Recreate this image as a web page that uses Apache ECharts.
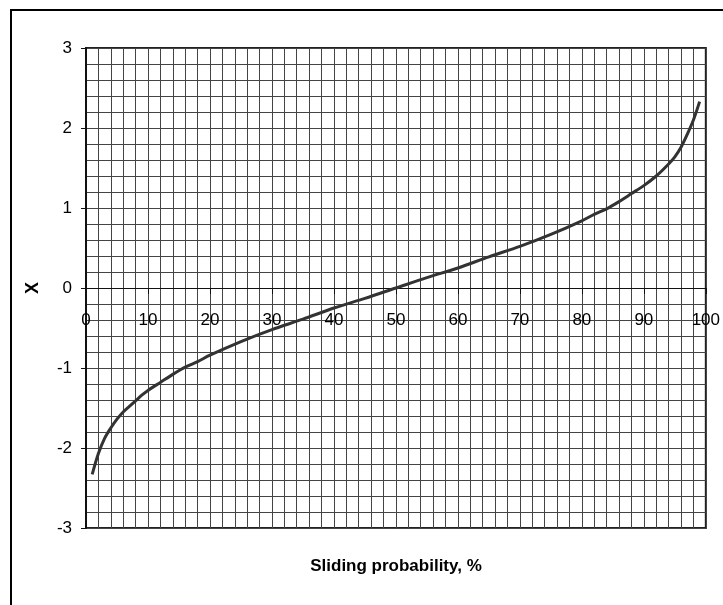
<!DOCTYPE html>
<html>
<head>
<meta charset="utf-8">
<script src="https://cdn.jsdelivr.net/npm/echarts@6/dist/echarts.min.js"></script>
<style>
  html, body { margin: 0; padding: 0; background: #fff; }
  #chart { width: 723px; height: 605px; }
</style>
</head>
<body>
<div id="chart"></div>
<script>
// Sliding probability (%) against the standardised variable X
const probability = [1, 2, 3, 4, 5, 6, 7, 8, 9, 10, 12, 14, 16, 18, 20, 25, 30, 35, 40, 45,
  50, 55, 60, 65, 70, 75, 80, 82, 84, 86, 88, 90, 92, 94, 95, 96, 97, 98, 99];
const xValue = [-2.33, -2.07, -1.88, -1.75, -1.64, -1.55, -1.48, -1.41, -1.34, -1.28, -1.18,
  -1.08, -0.99, -0.92, -0.84, -0.67, -0.52, -0.39, -0.25, -0.13,
  0.00, 0.13, 0.25, 0.39, 0.52, 0.67, 0.84, 0.92, 0.99, 1.08, 1.18, 1.28, 1.40, 1.55, 1.64,
  1.76, 1.92, 2.10, 2.33];

const xTicks = [0, 10, 20, 30, 40, 50, 60, 70, 80, 90, 100];
const yTicks = [-3, -2, -1, 0, 1, 2, 3];

const axisFont = "'Liberation Sans', Arial, sans-serif";
const gridColor = '#444';

// plot box in pixels; the probability axis runs along X = 0
const plotTop = 48, plotBottom = 77, plotHeight = 605 - plotTop - plotBottom;
const zeroOffset = -plotHeight * (0 - yTicks[0]) / (yTicks[yTicks.length - 1] - yTicks[0]);

const chart = echarts.init(document.getElementById('chart'));
chart.setOption({
  animation: false,
  backgroundColor: '#fff',
  grid: {
    left: 86, top: plotTop, right: 17, bottom: plotBottom,
    show: true, borderColor: '#222', borderWidth: 2, backgroundColor: 'transparent'
  },
  graphic: [
    {
      type: 'rect', silent: true, z: 0,
      shape: { x: 11, y: 10, width: 800, height: 700 },
      style: { fill: 'none', stroke: '#000', lineWidth: 2 }
    },
    {
      type: 'text', silent: true, z: 10,
      x: 396, y: 566,
      style: {
        text: 'Sliding probability, %',
        fontFamily: axisFont, fontWeight: 'bold', fontSize: 17,
        fill: '#000', align: 'center', verticalAlign: 'middle'
      }
    }
  ],
  xAxis: {
    type: 'value', position: 'bottom', offset: zeroOffset,
    min: xTicks[0], max: xTicks[xTicks.length - 1], interval: 10,
    axisLine: { show: true, onZero: false, lineStyle: { color: '#111', width: 1 } },
    axisTick: { show: true, length: 6, lineStyle: { color: '#111' } },
    minorTick: { show: false, splitNumber: 5 },
    axisLabel: {
      margin: 24, color: '#000', fontFamily: axisFont, fontSize: 17,
      formatter: v => xTicks.includes(v) ? String(v) : ''
    },
    splitLine: { show: true, lineStyle: { color: gridColor, width: 1 } },
    minorSplitLine: { show: true, lineStyle: { color: gridColor, width: 1 } }
  },
  yAxis: {
    type: 'value',
    min: yTicks[0], max: yTicks[yTicks.length - 1], interval: 1,
    name: 'X', nameLocation: 'middle', nameGap: 44, nameRotate: 90,
    nameTextStyle: { fontFamily: axisFont, fontWeight: 'bold', fontSize: 18, color: '#000' },
    axisLine: { show: true, lineStyle: { color: '#111', width: 2 } },
    axisTick: { show: true, inside: false, length: 5, lineStyle: { color: '#111' } },
    minorTick: { show: false, splitNumber: 5 },
    axisLabel: {
      margin: 14, color: '#000', fontFamily: axisFont, fontSize: 17,
      formatter: v => yTicks.includes(v) ? String(v) : ''
    },
    splitLine: { show: true, lineStyle: { color: gridColor, width: 1 } },
    minorSplitLine: { show: true, lineStyle: { color: gridColor, width: 1 } }
  },
  series: [{
    type: 'line',
    data: probability.map((p, i) => [p, xValue[i]]),
    showSymbol: false,
    smooth: 0.3,
    lineStyle: { color: '#333', width: 3 },
    z: 5
  }]
});
</script>
</body>
</html>
